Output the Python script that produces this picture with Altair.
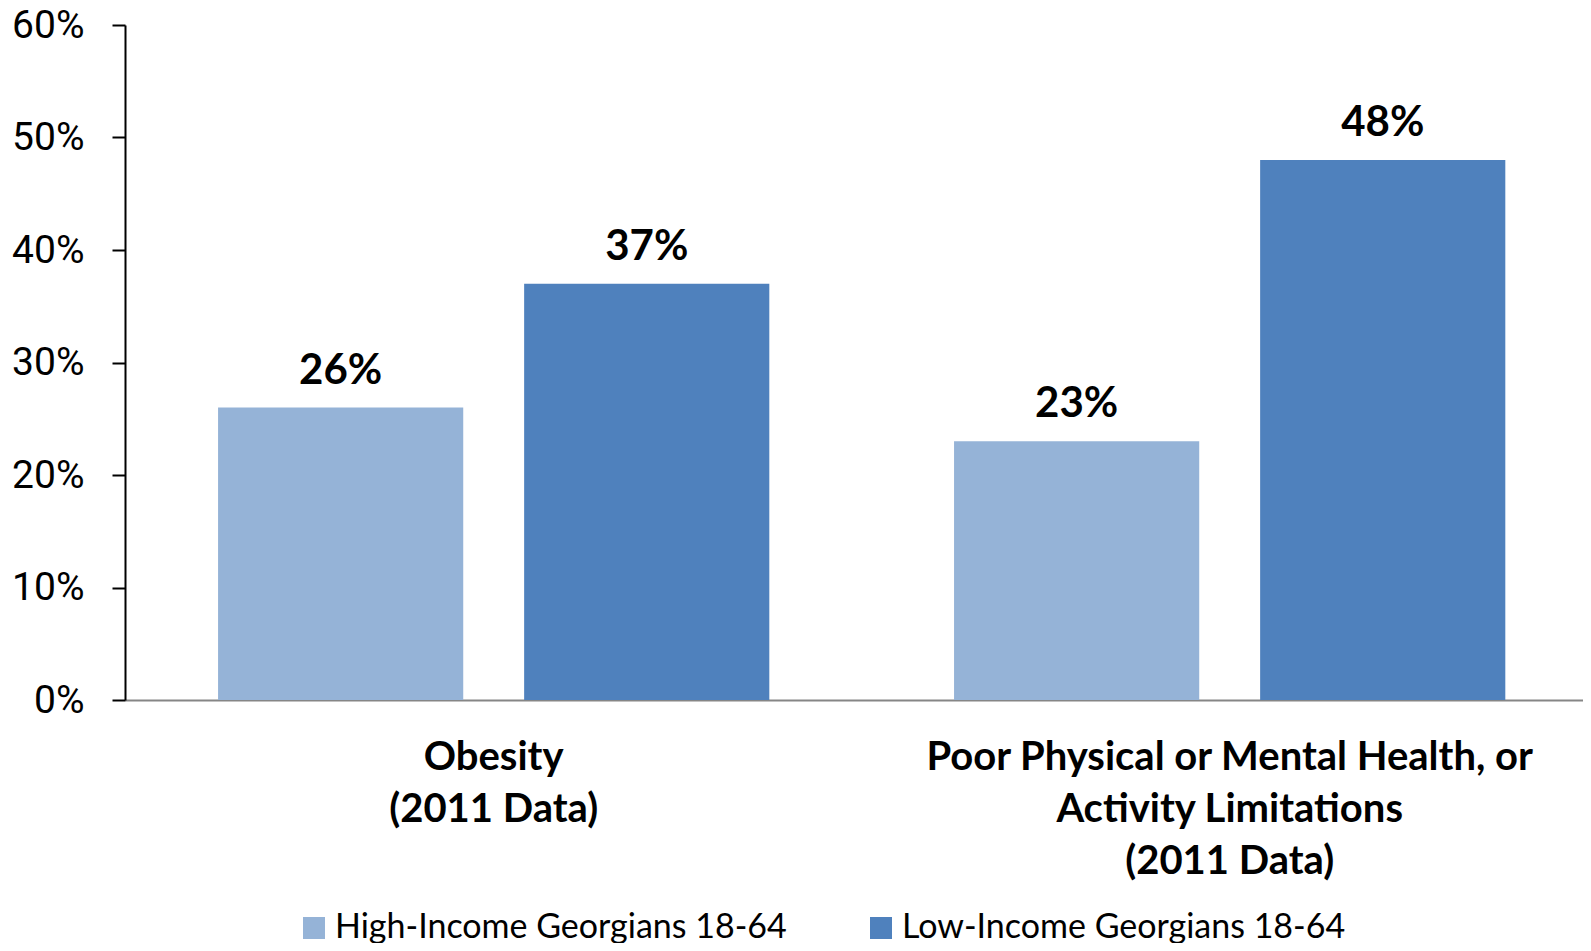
import altair as alt
import pandas as pd

categories = ["Obesity\n(2011 Data)",
              "Poor Physical or Mental Health, or\nActivity Limitations\n(2011 Data)"]
series = ["High-Income Georgians 18-64", "Low-Income Georgians 18-64"]
high_income = [0.26, 0.23]
low_income = [0.37, 0.48]
colors = ["#95B3D7", "#4F81BD"]
y_ticks = [0, 0.1, 0.2, 0.3, 0.4, 0.5, 0.6]

rows = []
for i, c in enumerate(categories):
    rows.append({"category": c, "series": series[0], "value": high_income[i]})
    rows.append({"category": c, "series": series[1], "value": low_income[i]})
df = pd.DataFrame(rows)

x_enc = alt.X("category:N", sort=categories, title=None,
              scale=alt.Scale(paddingInner=0.251, paddingOuter=0.116, align=0.545),
              axis=alt.Axis(labelExpr="split(datum.label, '\\n')", labelAngle=0,
                            labelFont="Lato", labelFontWeight="bold", labelFontSize=40,
                            labelColor="black", labelLineHeight=52, labelPadding=37,
                            labelLimit=1000, ticks=False, domainColor="#868686",
                            domainWidth=2, labelBaseline="top"))
xoff = alt.XOffset("series:N", sort=series,
                   scale=alt.Scale(paddingInner=0.199, paddingOuter=0))
y_enc = alt.Y("value:Q", title=None,
              scale=alt.Scale(domain=[0, 0.6], nice=False),
              axis=alt.Axis(values=y_ticks, format=".0%", grid=False,
                            labelFont="Roboto", labelFontSize=39, labelColor="black",
                            labelPadding=28, tickSize=13, tickColor="black",
                            domainColor="black", tickWidth=2, domainWidth=2))

bars = alt.Chart(df).mark_bar().encode(
    x=x_enc, xOffset=xoff, y=y_enc,
    color=alt.Color("series:N", sort=series,
                    scale=alt.Scale(domain=series, range=colors),
                    legend=alt.Legend(title=None, orient="none", direction="horizontal",
                                      legendX=172, legendY=886, symbolType="square",
                                      symbolSize=484, symbolStrokeWidth=0,
                                      symbolOpacity=1,
                                      labelFont="Lato", labelFontSize=34,
                                      labelColor="black", labelOffset=4,
                                      columnPadding=77, padding=0, labelLimit=1000))
)

labels = alt.Chart(df).mark_text(font="Lato", fontWeight="bold", fontSize=42,
                                 color="black", baseline="alphabetic", dy=-24).encode(
    x=alt.X("category:N", sort=categories), xOffset=xoff, y="value:Q",
    text=alt.Text("value:Q", format=".0%"))

chart = (bars + labels).properties(
    width=1458, height=675,
    background="white",
    autosize=alt.AutoSizeParams(type="none"),
    padding={"left": 117, "top": 17, "right": 0, "bottom": 243},
).configure_view(stroke=None)

chart.save("out.html", embed_options={"renderer": "svg", "actions": False})
